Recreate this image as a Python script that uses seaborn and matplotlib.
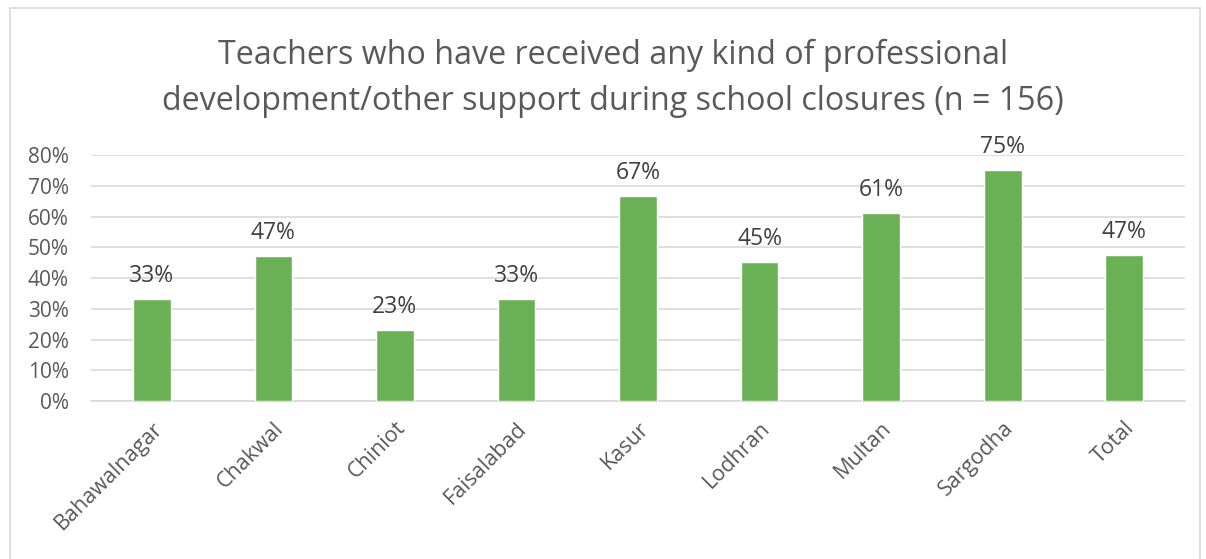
import matplotlib
matplotlib.use("Agg")
import matplotlib.pyplot as plt
import seaborn as sns
import pandas as pd
from matplotlib.patches import Rectangle

districts = ["Bahawalnagar", "Chakwal", "Chiniot", "Faisalabad", "Kasur",
             "Lodhran", "Multan", "Sargodha", "Total"]
share = [0.333, 0.471, 0.231, 0.333, 0.667, 0.452, 0.611, 0.750, 0.474]
y_ticks = [0.0, 0.1, 0.2, 0.3, 0.4, 0.5, 0.6, 0.7, 0.8]
title = ("Teachers who have received any kind of professional\n"
         "development/other support during school closures (n = 156)")

sns.set_theme(style="white")
plt.rcParams["font.family"] = ["Open Sans", "DejaVu Sans"]

df = pd.DataFrame({"district": districts, "share": share})

fig = plt.figure(figsize=(12.06, 5.59), dpi=100)
ax = fig.add_axes([0.0755, 0.2826, 0.9071, 0.4401])

sns.barplot(data=df, x="district", y="share", color="#6AB156",
            width=0.31, saturation=1, ax=ax, zorder=3)

ax.set_ylim(0, 0.8)
ax.set_xlim(-0.5, len(districts) - 0.5)
ax.set_yticks(y_ticks)
ax.set_yticklabels([f"{int(round(t * 100))}%" for t in y_ticks],
                   fontsize=15, color="#595959")
ax.yaxis.grid(True, color="#D9D9D9", linewidth=1.2, zorder=0)
ax.set_axisbelow(True)
for s in ["left", "right", "top"]:
    ax.spines[s].set_visible(False)
ax.spines["bottom"].set_color("#D9D9D9")
ax.spines["bottom"].set_linewidth(1.2)
ax.tick_params(axis="both", length=0)
ax.tick_params(axis="y", pad=16)
ax.set_xlabel("")
ax.set_ylabel("")

ax.set_xticks(range(len(districts)))
ax.set_xticklabels(districts, rotation=45, ha="right", va="top",
                   rotation_mode="anchor", fontsize=15.5, color="#595959")
ax.tick_params(axis="x", pad=12)

for i, v in enumerate(share):
    ax.annotate(f"{round(v * 100):.0f}%", (i, v), xytext=(0, 8),
                textcoords="offset points", ha="center", va="bottom",
                fontsize=16.5, color="#404040")

fig.text(0.508, 0.93, title, ha="center", va="top", fontsize=23.2,
         color="#595959", linespacing=1.5)

fig.patches.append(Rectangle((0.008, -0.02), 0.987, 1.005,
                             transform=fig.transFigure, fill=False,
                             edgecolor="#D9D9D9", linewidth=1.2))

fig.savefig("out.png", dpi=100)
